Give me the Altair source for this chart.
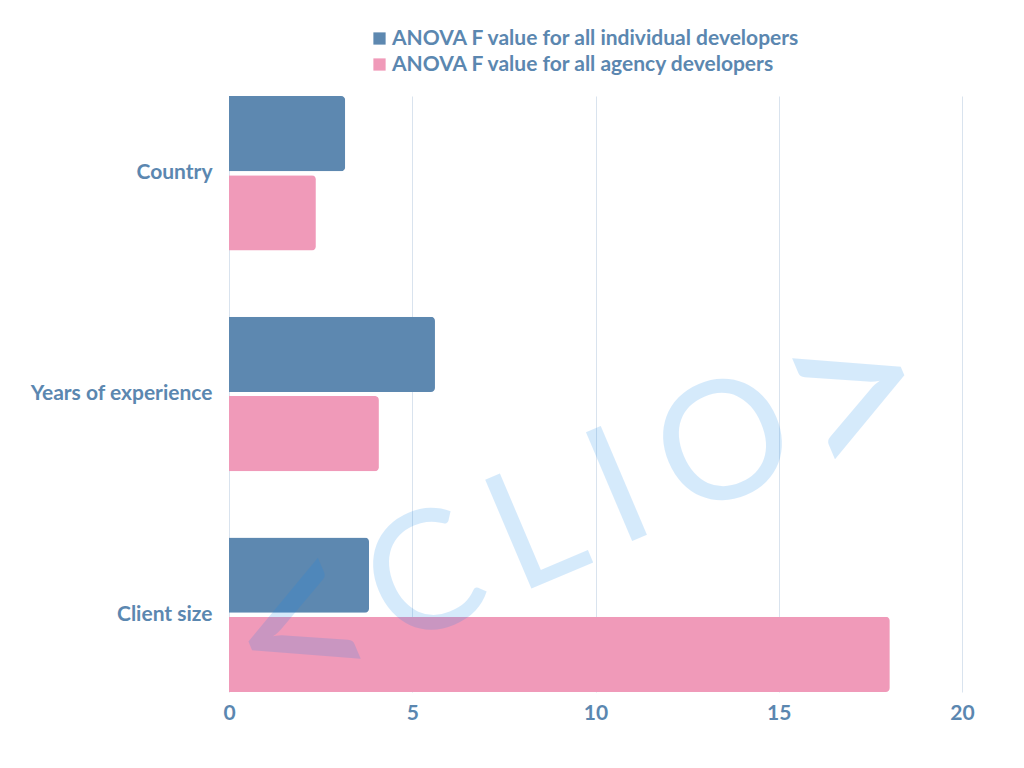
import altair as alt
import pandas as pd

categories = ["Country", "Years of experience", "Client size"]
series = ["ANOVA F value for all individual developers", "\u2004ANOVA F value for all agency developers"]
individual = [3.17, 5.62, 3.82]
agency = [2.37, 4.09, 18.03]
x_ticks = [0, 5, 10, 15, 20]

rows = []
for c, v in zip(categories, individual):
    rows.append({"category": c, "series": series[0], "value": v})
for c, v in zip(categories, agency):
    rows.append({"category": c, "series": series[1], "value": v})
df = pd.DataFrame(rows)

TXT = "#5b87b0"
FONT = "Lato"

bars = alt.Chart(df).mark_bar(cornerRadiusEnd=4).encode(
    y=alt.Y("category:N", sort=categories, title=None,
            scale=alt.Scale(paddingInner=0.3, paddingOuter=0.0),
            axis=alt.Axis(ticks=False, domain=False, labelFontSize=21, labelFont=FONT,
                          labelFontWeight="bold", labelColor=TXT, labelPadding=17,
                          labelLimit=0, minExtent=216, maxExtent=216)),
    yOffset=alt.YOffset("series:N", sort=series, scale=alt.Scale(paddingInner=0.05, paddingOuter=0)),
    x=alt.X("value:Q", title=None, scale=alt.Scale(domain=[0, 20], nice=False),
            axis=alt.Axis(values=x_ticks, ticks=False, domain=False, labelFontSize=21,
                          labelFont=FONT, labelFontWeight="bold", labelColor=TXT,
                          labelFlush=False, labelPadding=10, gridColor="#d9e3ee", gridWidth=1)),
    color=alt.Color("series:N", sort=series,
                    scale=alt.Scale(domain=series, range=["#5d88b0", "#f09ab9"]),
                    legend=alt.Legend(title=None, orient="none", legendX=140, legendY=-68,
                                      symbolType="square", symbolSize=150, labelFontSize=21,
                                      labelFont=FONT, labelFontWeight="bold", labelColor=TXT,
                                      rowPadding=4, labelOffset=2, labelLimit=0,
                                      symbolStrokeWidth=0)),
)

# watermark glyphs (decoration, pixel placement)
wm_glyphs = [("<", 250, 73, 538), ("C", 165, 197, 485), ("L", 165, 308, 436),
             ("I", 165, 391, 396), ("O", 165, 497, 352), (">", 250, 629, 304)]
wm_layers = []
for g, fs, px, py in wm_glyphs:
    wm_layers.append(
        alt.Chart(pd.DataFrame({"t": [g]})).mark_text(
            font=FONT, fontSize=fs, fontWeight="normal", angle=337, color="#0f87ed",
            opacity=0.17, align="center", baseline="middle"
        ).encode(text="t:N", x=alt.value(px), y=alt.value(py))
    )

chart = alt.layer(bars, *wm_layers).properties(
    width=733, height=596, padding={"top": 20, "left": 5, "right": 5, "bottom": 5}
).configure_view(stroke=None)

chart.save("out.html", embed_options={"renderer": "svg", "actions": False})
